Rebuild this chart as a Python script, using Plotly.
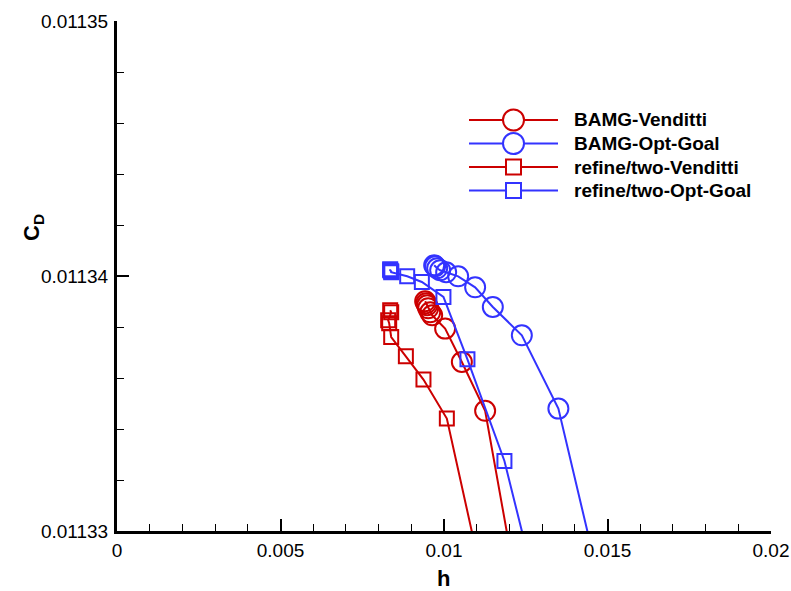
import plotly.graph_objects as go

# ---- data ----
bamg_venditti_h = [0.009424, 0.009455, 0.009485, 0.009516, 0.009577, 0.009638, 0.010035, 0.010546, 0.011258, 0.012572]
bamg_venditti_cd = [0.011339008, 0.011338929, 0.011338851, 0.011338733, 0.011338576, 0.011338459, 0.011337937, 0.011336627, 0.011334714, 0.011325300]

bamg_opt_h = [0.009699, 0.009729, 0.009791, 0.009883, 0.010066, 0.010433, 0.010952, 0.011493, 0.012380, 0.013498, 0.015250]
bamg_opt_cd = [0.011340420, 0.011340380, 0.011340302, 0.011340224, 0.011340145, 0.011339988, 0.011339557, 0.011338784, 0.011337675, 0.011334800, 0.011325300]

refine_venditti_h = [0.008354, 0.008385, 0.008293, 0.008324, 0.008385, 0.008834, 0.009372, 0.010087, 0.011655]
refine_venditti_cd = [0.011338655, 0.011338576, 0.011338263, 0.011338145, 0.011337608, 0.011336851, 0.011335937, 0.011334408, 0.011325322]

refine_opt_h = [0.008354, 0.008354, 0.008385, 0.008385, 0.008874, 0.009323, 0.009983, 0.010717, 0.011848, 0.013288]
refine_opt_cd = [0.011340263, 0.011340224, 0.011340184, 0.011340145, 0.011339988, 0.011339765, 0.011339176, 0.011336733, 0.011332745, 0.011325322]

x_tickvals = [0, 0.005, 0.01, 0.015, 0.02]
x_ticktext = ["0", "0.005", "0.01", "0.015", "0.02"]
y_tickvals = [0.01133, 0.01134, 0.01135]
y_ticktext = ["0.01133", "0.01134", "0.01135"]

series_names = ["BAMG-Venditti", "BAMG-Opt-Goal", "refine/two-Venditti", "refine/two-Opt-Goal"]

RED = "#cc0000"
BLUE = "#3333ff"
FONT = "Liberation Sans, Arial, Helvetica, sans-serif"

series = [
    (bamg_venditti_h, bamg_venditti_cd, RED, "circle-open", 20),
    (bamg_opt_h, bamg_opt_cd, BLUE, "circle-open", 20),
    (refine_venditti_h, refine_venditti_cd, RED, "square-open", 14),
    (refine_opt_h, refine_opt_cd, BLUE, "square-open", 14),
]

fig = go.Figure()
for (hx, cy, col, sym, sz), name in zip(series, series_names):
    fig.add_trace(go.Scatter(
        x=hx, y=cy, name=name, mode="lines+markers",
        line=dict(color=col, width=2),
        marker=dict(symbol=sym, size=sz, color=col, line=dict(color=col, width=2)),
        showlegend=False, cliponaxis=True,
    ))

# ---- layout geometry (body margin removed via post_script) ----
W, H = 791, 591
L, R, T, B = 117, 20, 21, 60
pw = W - L - R
ph = H - T - B

def px2paper_x(px):
    return (px - L) / pw

def px2paper_y(py):
    return (H - B - py) / ph

shapes = []
annotations = []
legend_rows_y = [120, 143.5, 167, 190.5]
legend_styles = [(RED, "circle"), (BLUE, "circle"), (RED, "rect"), (BLUE, "rect")]
for name, ry, (col, kind) in zip(series_names, legend_rows_y, legend_styles):
    yy = px2paper_y(ry)
    shapes.append(dict(type="line", xref="paper", yref="paper",
                       x0=px2paper_x(469), x1=px2paper_x(558), y0=yy, y1=yy,
                       line=dict(color=col, width=2)))
    half = 10.5 if kind == "circle" else 7.5
    shapes.append(dict(type=kind, xref="paper", yref="paper",
                       xsizemode="pixel", ysizemode="pixel",
                       xanchor=px2paper_x(513.5), yanchor=yy,
                       x0=-half, x1=half, y0=-half, y1=half,
                       fillcolor="white", line=dict(color=col, width=2)))
    annotations.append(dict(xref="paper", yref="paper", x=px2paper_x(572), y=yy,
                            xanchor="left", yanchor="middle", showarrow=False,
                            text="<b>%s</b>" % name,
                            font=dict(family=FONT, size=19, color="black")))

# axis titles
annotations.append(dict(xref="paper", yref="paper", x=px2paper_x(443), y=px2paper_y(578),
                        xanchor="center", yanchor="middle", showarrow=False,
                        text="<b>h</b>", font=dict(family=FONT, size=22, color="black")))
annotations.append(dict(xref="paper", yref="paper", x=px2paper_x(33), y=px2paper_y(228),
                        xanchor="center", yanchor="middle", showarrow=False, textangle=-90,
                        text="<b>C<sub>D</sub></b>", font=dict(family=FONT, size=22, color="black")))

fig.update_layout(
    width=W, height=H,
    margin=dict(l=L, r=R, t=T, b=B, autoexpand=False),
    paper_bgcolor="white", plot_bgcolor="white",
    font=dict(family=FONT, size=19, color="black"),
    shapes=shapes, annotations=annotations,
    xaxis=dict(
        range=[0, 0.02], tickvals=x_tickvals, ticktext=x_ticktext,
        showgrid=False, zeroline=False, showline=True, linecolor="black", linewidth=3,
        ticks="inside", ticklen=12, tickwidth=2, tickcolor="black",
        minor=dict(dtick=0.001, ticks="inside", ticklen=7, tickwidth=1, tickcolor="black", showgrid=False),
        tickfont=dict(family=FONT, size=19, color="black"),
        mirror=False,
    ),
    yaxis=dict(
        range=[0.01133, 0.01135], tickvals=y_tickvals, ticktext=y_ticktext,
        showgrid=False, zeroline=False, showline=True, linecolor="black", linewidth=3,
        ticks="inside", ticklen=12, tickwidth=2, tickcolor="black",
        minor=dict(dtick=0.000002, ticks="inside", ticklen=7, tickwidth=1, tickcolor="black", showgrid=False),
        tickfont=dict(family=FONT, size=19, color="black"),
        ticklabelstandoff=2,
        mirror=False,
    ),
)

fig.write_html("out.html", config={"displayModeBar": False},
               post_script="document.body.style.margin='0';document.body.style.overflow='hidden';")
